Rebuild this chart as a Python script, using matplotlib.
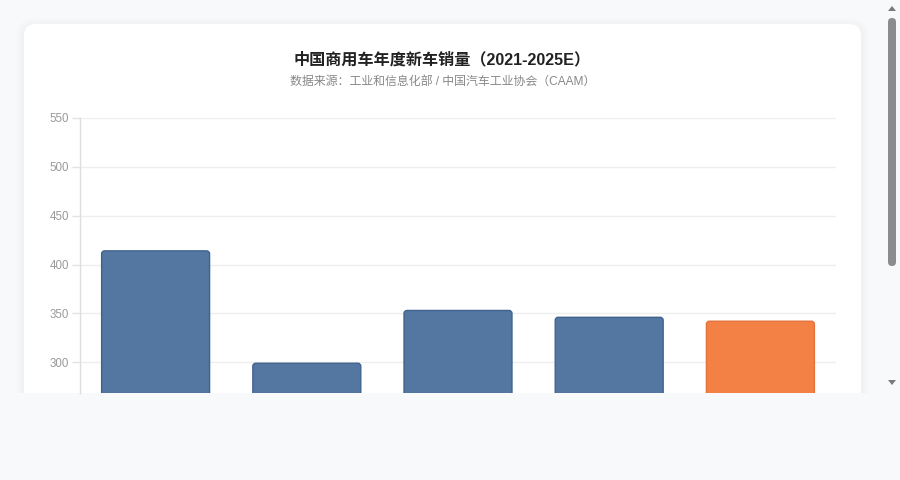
import matplotlib
matplotlib.use("Agg")
import matplotlib.pyplot as plt
from matplotlib.patches import FancyBboxPatch, Rectangle, Polygon

# Datos (unidad: 万辆)
years = ["2021", "2022", "2023", "2024", "2025E"]
sales = [414, 299, 353, 346, 342]
bar_colors = ["#5477a1", "#5477a1", "#5477a1", "#5477a1", "#f38044"]
edge_colors = ["#3f6390", "#3f6390", "#3f6390", "#3f6390", "#e4723a"]
y_ticks = [300, 350, 400, 450, 500, 550]

TITLE = "中国商用车年度新车销量（2021-2025E）"
SUBTITLE = "数据来源：工业和信息化部 / 中国汽车工业协会（CAAM）"

FONT = ["Liberation Sans", "Noto Sans CJK SC", "DejaVu Sans"]
plt.rcParams["font.family"] = FONT

W, H = 900, 480
PAGE = "#f8f9fb"
fig = plt.figure(figsize=(9, 4.8), dpi=100)
fig.patch.set_facecolor(PAGE)

# capa de fondo en pixeles
bg = fig.add_axes([0, 0, 1, 1], zorder=-1)
bg.set_xlim(0, W)
bg.set_ylim(H, 0)
bg.axis("off")

# sombra suave y tarjeta
for d in [8, 6, 4, 2]:
    bg.add_patch(FancyBboxPatch((24 - d, 24 - d + 2), 837 + 2 * d, 420,
                                boxstyle="round,pad=0,rounding_size=%d" % (12 + d),
                                fc="#1a2a40", ec="none", alpha=0.008))
bg.add_patch(FancyBboxPatch((24, 24), 837, 420,
                            boxstyle="round,pad=0,rounding_size=12",
                            fc="white", ec="none"))
# parte inferior fuera de la vista
bg.add_patch(Rectangle((0, 393), W, H - 393, fc=PAGE, ec="none"))

# barra de desplazamiento
bg.add_patch(FancyBboxPatch((888, 18), 8, 248,
                            boxstyle="round,pad=0,rounding_size=4",
                            fc="#8c8c8c", ec="none"))
bg.add_patch(Polygon([(888, 11), (896, 11), (892, 6)], fc="#7a7a7a", ec="none"))
bg.add_patch(Polygon([(888, 380), (896, 380), (892, 385)], fc="#7a7a7a", ec="none"))

bg.text(442.5, 59.5, TITLE, ha="center", va="center", fontsize=11.6,
        fontweight="bold", color="#222222", family=FONT)
bg.text(442.5, 81.5, SUBTITLE, ha="center", va="center", fontsize=8.6,
        color="#888888", family=FONT)

# grafico principal
left, right, top, bottom = 80, 836, 118, 393
PX_PER_UNIT = 0.977
ax = fig.add_axes([left / W, 1 - bottom / H, (right - left) / W, (bottom - top) / H])
ax.set_facecolor("white")

x = list(range(len(years)))
bars = ax.bar(x, sales, width=0.714, color=bar_colors, edgecolor=edge_colors,
              linewidth=1, zorder=3)

ax.set_xlim(-0.5, len(years) - 0.5)
ax.set_ylim(550 - (bottom - top) / PX_PER_UNIT, 550)

# esquinas redondeadas (~3 px)
x_per_px = len(years) / (right - left)
y_per_px = 1 / PX_PER_UNIT
for b in bars:
    r = FancyBboxPatch((b.get_x(), b.get_y()), b.get_width(), b.get_height(),
                       boxstyle="round,pad=0,rounding_size=%f" % (3 * x_per_px),
                       mutation_aspect=y_per_px / x_per_px,
                       fc=b.get_facecolor(), ec=b.get_edgecolor(), lw=1, zorder=3)
    b.remove()
    ax.add_patch(r)

ax.set_yticks(y_ticks)
ax.set_yticklabels([str(v) for v in y_ticks])
ax.set_xticks(x)
ax.set_xticklabels(years)
ax.tick_params(axis="x", bottom=False, labelbottom=False)
ax.tick_params(axis="y", length=6, width=1, color="#e2e2e2", pad=2,
               labelsize=8.3, labelcolor="#999999")
ax.grid(axis="y", color="#eeeeee", linewidth=1, zorder=0)
for s in ["top", "right", "bottom"]:
    ax.spines[s].set_visible(False)
ax.spines["left"].set_color("#dddddd")
ax.spines["left"].set_linewidth(1)

fig.savefig("out.png", dpi=100, facecolor=fig.get_facecolor())
